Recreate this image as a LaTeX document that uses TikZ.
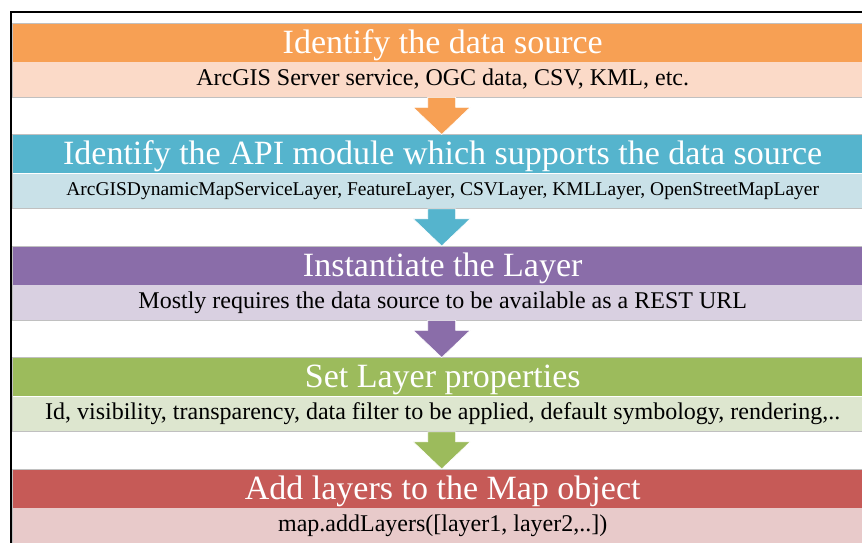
\documentclass[tikz,border=0pt]{standalone}
\usepackage{fontspec}
\setmainfont{Liberation Serif}
\usetikzlibrary{calc}

% stage colours: header fill / description fill
\definecolor{orangeH}{HTML}{F7A054}
\definecolor{orangeL}{HTML}{FBDAC8}
\definecolor{blueH}{HTML}{55B4CD}
\definecolor{blueL}{HTML}{C9E1E8}
\definecolor{purpleH}{HTML}{8A6DA9}
\definecolor{purpleL}{HTML}{D9D0E1}
\definecolor{greenH}{HTML}{9CBB5C}
\definecolor{greenL}{HTML}{DDE6CF}
\definecolor{redH}{HTML}{C65A57}
\definecolor{redL}{HTML}{E8CACA}
\definecolor{bandedge}{HTML}{C0C0C0}

\begin{document}
\begin{tikzpicture}[x=1pt,y=-1pt,
  head/.style={rectangle, inner sep=0pt, minimum width=861pt, minimum height=38.5pt,
    text height=25pt, text depth=3.5pt,
    anchor=north west, text=white, font=\fontsize{34}{40}\selectfont},
  desc/.style={rectangle, inner sep=0pt, minimum width=861pt, minimum height=35pt,
    text height=16.5pt, text depth=5pt,
    anchor=north west, text=black, font=\fontsize{24}{28}\selectfont},
  smalldesc/.style={desc, text height=14pt, text depth=4.7pt,
    font=\fontsize{19.5}{24}\selectfont},
  bandline/.style={draw=bandedge, line width=0.8pt},
  frameline/.style={draw=black, line width=1.2pt},
  flowarrow/.style={draw=white, line width=0.6pt}]

\path[use as bounding box] (0,0) rectangle (862,542);
\clip (0,0) rectangle (862,542);

% outer frame
\draw[frameline] (870,12) -- (11,12) -- (11,550);

% stages
\node[head, fill=orangeH] (h1) at (12,23) {Identify the data source};
\node[desc, fill=orangeL] (d1) at (h1.south west) {ArcGIS Server service, OGC data, CSV, KML, etc.};
\draw[bandline] (h1.north west) rectangle (d1.south east);

\node[head, fill=blueH] (h2) at (12,134.5) {Identify the API module which supports the data source};
\node[smalldesc, fill=blueL] (d2) at (h2.south west) {ArcGISDynamicMapServiceLayer, FeatureLayer, CSVLayer, KMLLayer, OpenStreetMapLayer};
\draw[bandline] (h2.north west) rectangle (d2.south east);

\node[head, fill=purpleH] (h3) at (12,246) {Instantiate the Layer};
\node[desc, fill=purpleL] (d3) at (h3.south west) {Mostly requires the data source to be available as a REST URL};
\draw[bandline] (h3.north west) rectangle (d3.south east);

\node[head, fill=greenH] (h4) at (12,357.5) {Set Layer properties};
\node[desc, fill=greenL] (d4) at (h4.south west) {Id, visibility, transparency, data filter to be applied, default symbology, rendering,..};
\draw[bandline] (h4.north west) rectangle (d4.south east);

\node[head, fill=redH] (h5) at (12,469) {Add layers to the Map object};
\node[desc, fill=redL] (d5) at (h5.south west) {map.addLayers([layer1, layer2,..])};
\draw[bandline] (h5.north west) rectangle (d5.south east);

% block arrows between stages
\foreach \a/\b/\c in {d1/h2/orangeH, d2/h3/blueH, d3/h4/purpleH, d4/h5/greenH}{
  \draw[flowarrow, fill=\c]
    ($(\a.south)+(-1,0)+(-14,0)$) -- ($(\a.south)+(-1,0)+(-14,10)$)
    -- ($(\a.south)+(-1,0)+(-28.5,10)$) -- ($(\b.north)+(-1,0)$)
    -- ($(\a.south)+(-1,0)+(28.5,10)$) -- ($(\a.south)+(-1,0)+(14,10)$)
    -- ($(\a.south)+(-1,0)+(14,0)$) -- cycle;
}
\end{tikzpicture}
\end{document}
